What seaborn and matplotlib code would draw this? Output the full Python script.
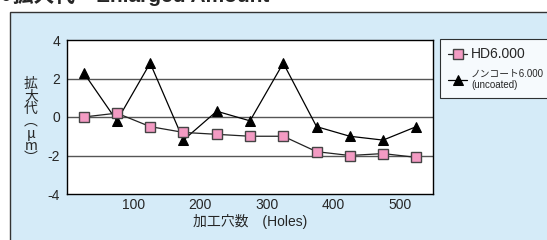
import pandas as pd
import seaborn as sns
import matplotlib.pyplot as plt
from matplotlib.patches import Rectangle

# --- data ---
holes = [25, 75, 125, 175, 225, 275, 325, 375, 425, 475, 525]
hd6000 = [0.0, 0.2, -0.5, -0.8, -0.9, -1.0, -1.0, -1.8, -2.0, -1.9, -2.1]
uncoated = [2.3, -0.2, 2.8, -1.2, 0.3, -0.2, 2.8, -0.5, -1.0, -1.2, -0.5]
x_ticks = [100, 200, 300, 400, 500]
y_ticks = [-4, -2, 0, 2, 4]

sns.set_style("white")
plt.rcParams['font.family'] = ['Liberation Sans', 'Noto Sans CJK JP', 'DejaVu Sans']
plt.rcParams['axes.unicode_minus'] = False

panel_blue = "#d5ebf8"
pink = "#f39bc3"

fig = plt.figure(figsize=(5.47, 2.4), dpi=100, facecolor="white")

# light blue panel with dark border on left/top
fig.patches.append(Rectangle((10 / 547, -0.1), 1.2, 0.1 + (240 - 12) / 240,
                             transform=fig.transFigure, facecolor=panel_blue,
                             edgecolor="#333333", linewidth=1.0, zorder=-10))

fig.text(0.0, 1 - 2 / 240, "●拡大代　Enlarged Amount", fontsize=15,
         fontweight="bold", va="baseline", ha="left")

ax = fig.add_axes([67 / 547, 46 / 240, 366 / 547, 154 / 240])
ax.set_facecolor("white")

df_hd = pd.DataFrame({"holes": holes, "value": hd6000})
df_un = pd.DataFrame({"holes": holes, "value": uncoated})

for y in [2, 0, -2]:
    ax.axhline(y, color="#555555", linewidth=1.0, zorder=1)

sns.lineplot(data=df_un, x="holes", y="value", ax=ax, color="black",
             linewidth=0.9, marker="^", markersize=7, markeredgecolor="black",
             markerfacecolor="black", label="ノンコート6.000\n(uncoated)", zorder=3)
sns.lineplot(data=df_hd, x="holes", y="value", ax=ax, color="#222222",
             linewidth=0.9, marker="s", markersize=7, markeredgecolor="#444444",
             markerfacecolor=pink, markeredgewidth=1.0, label="HD6.000", zorder=4)

ax.set_xlim(0, 550)
ax.set_ylim(-4, 4)
ax.set_xticks(range(50, 550, 50))
ax.set_xticklabels([str(v) if v in x_ticks else "" for v in range(50, 550, 50)])
ax.set_yticks(y_ticks)
ax.tick_params(axis="x", direction="in", length=7, width=0.8, color="#444444",
               labelsize=10, pad=3)
ax.tick_params(axis="y", length=0, labelsize=10, pad=5)
for s in ax.spines.values():
    s.set_color("black")
    s.set_linewidth(1.0)

ax.set_xlabel("加工穴数　(Holes)", fontsize=10, labelpad=1)
ax.set_ylabel("")
fig.text(31 / 547, 0.495, "拡\n大\n代\n︵\nμ\nm\n︶", fontsize=10,
         ha="center", va="center", linespacing=0.85,
         family=['Noto Sans CJK JP', 'DejaVu Sans'])

handles, labels = ax.get_legend_handles_labels()
leg = fig.legend(handles[::-1], labels[::-1], loc="upper left",
                 bbox_to_anchor=(440 / 547, 1 - 39 / 240), fontsize=7,
                 frameon=True, fancybox=False, handlelength=2.0,
                 handletextpad=0.4, borderpad=0.8, borderaxespad=0,
                 labelspacing=0.8)
leg.get_frame().set_edgecolor("black")
leg.get_frame().set_linewidth(0.8)
leg.get_texts()[0].set_fontsize(10)
ax.get_legend().remove()

fig.savefig("out.png", dpi=100)
